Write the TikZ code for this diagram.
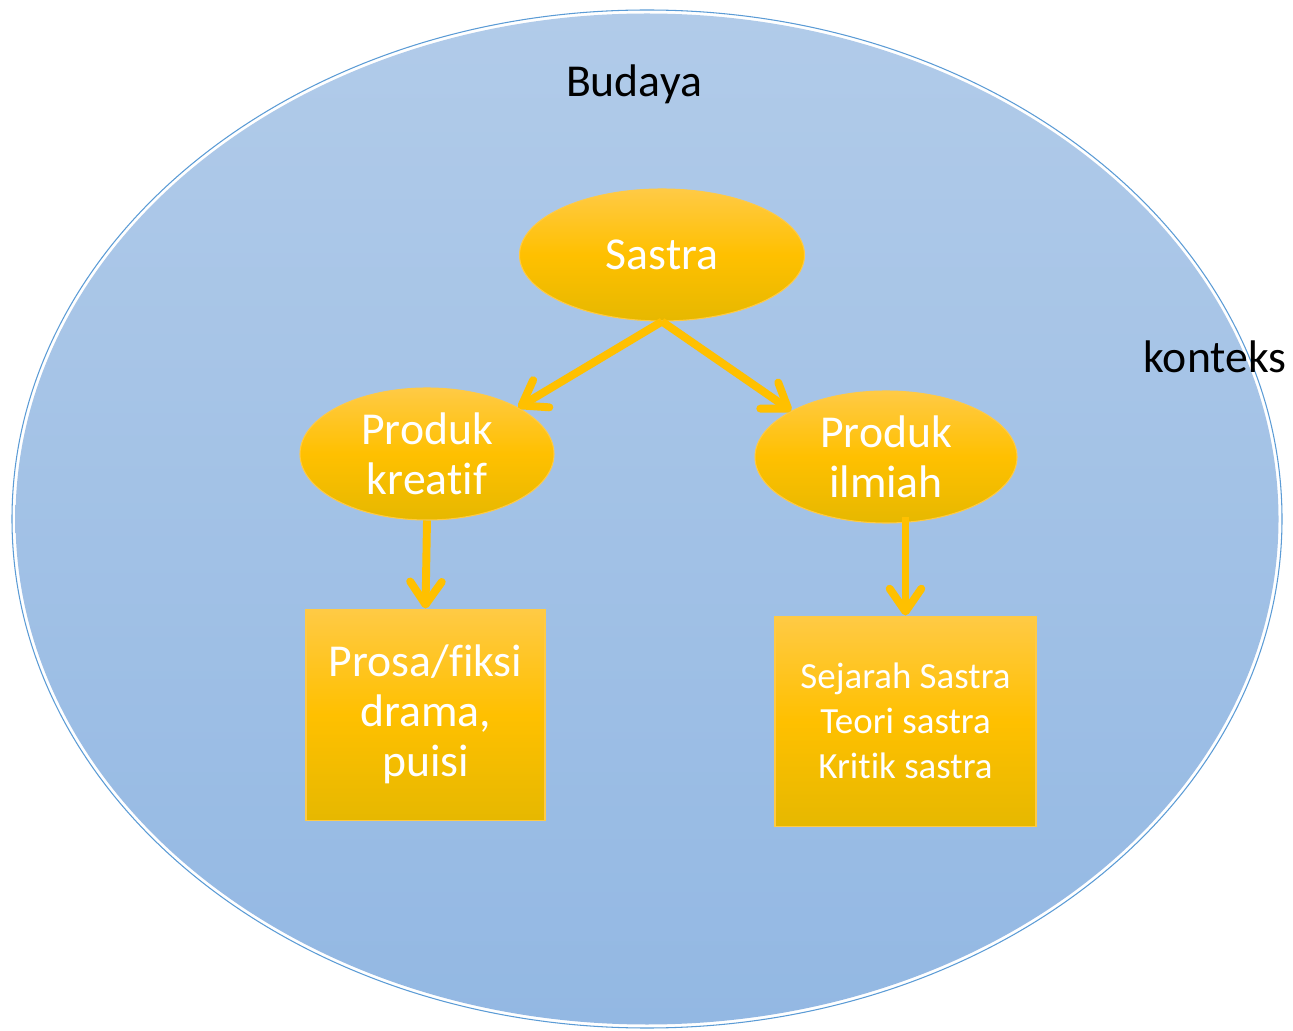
\documentclass[tikz,border=0pt]{standalone}
\usepackage{fontspec}
\setmainfont{Carlito}[Ligatures={NoCommon}]
\usetikzlibrary{shapes.geometric}
\usetikzlibrary{arrows.meta}
\usetikzlibrary{calc}
\usetikzlibrary{positioning}

\definecolor{langit}{HTML}{B1CBE9}
\definecolor{langitbawah}{HTML}{93B8E3}
\definecolor{garisbiru}{HTML}{5B9BD5}
\definecolor{emasatas}{HTML}{FFCA45}
\definecolor{emas}{HTML}{FFC000}
\definecolor{emasbawah}{HTML}{E6B800}

\begin{document}
\begin{tikzpicture}[
	oval/.style={ellipse,draw=emasatas,line width=0.6pt,top color=emasatas,bottom color=emasbawah,middle color=emas,text=white,align=center,inner sep=0pt,font=\fontsize{26}{28.4}\selectfont,minimum height=2.64cm},
	kotak/.style={rectangle,draw=emasatas,line width=0.6pt,top color=emasatas,bottom color=emasbawah,middle color=emas,text=white,align=center,inner sep=0pt},
	panah/.style={draw=emas,line width=4.5pt,-{Straight Barb[length=13pt,width=18pt,round]}},
	judul/.style={font=\fontsize{26}{30}\selectfont,text=black}
	]
	\useasboundingbox (0,0) rectangle (25.86,20.6);
	
	% budaya
	\shade[top color=langit,bottom color=langitbawah] (12.94,10.22) ellipse (12.63 and 10.11);
	\draw[garisbiru,line width=0.6pt] (12.94,10.22) ellipse (12.7 and 10.18);
	\node[judul] (budaya) at (12.68,18.92) {Budaya};
	\node[judul] (konteks) at (24.3,13.46) {konteks};
	
	% sastra
	\node[oval,minimum width=5.7cm] (sastra) at (13.24,15.5) {Sastra};
	\node[oval,minimum width=5.08cm] (kreatif) at (8.54,11.52) {Produk\\kreatif};
	\node[oval,minimum width=5.24cm] (ilmiah) at (17.72,11.46) {Produk\\ilmiah};
	
	\node[kotak,minimum width=4.78cm,minimum height=4.22cm,below=1.76cm of kreatif,xshift=-0.03cm,font=\fontsize{26}{28.4}\selectfont] (prosa) {Prosa/fiksi\\drama,\\puisi};
	\node[kotak,minimum width=5.22cm,minimum height=4.2cm,below=1.84cm of ilmiah,xshift=0.39cm,font=\fontsize{21}{25.5}\selectfont] (sejarah) {Sejarah Sastra\\Teori sastra\\Kritik sastra};
	
	\draw[panah] (sastra.south) -- (kreatif.27);
	\draw[panah] (sastra.south) -- (ilmiah.154);
	\draw[panah] (kreatif.south) -- (prosa.north);
	\draw[panah] ($(ilmiah.south -| sejarah.north)+(0,0.14)$) -- (sejarah.north);
	
\end{tikzpicture}
\end{document}
